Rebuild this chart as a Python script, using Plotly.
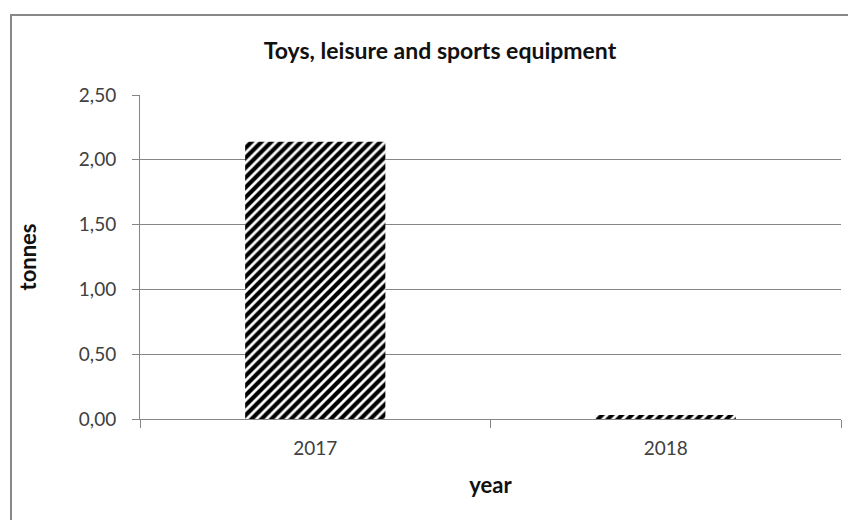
import plotly.graph_objects as go

years = ["2017", "2018"]
tonnes = [2.14, 0.03]
y_ticks = [0, 0.5, 1.0, 1.5, 2.0, 2.5]
y_tick_labels = ["0,00", "0,50", "1,00", "1,50", "2,00", "2,50"]

FONT = "Lato, Calibri, Carlito, sans-serif"
GRID = "#868686"
OFF = 8  # page body margin offset

fig = go.Figure()
fig.add_trace(go.Bar(
    x=years, y=tonnes,
    marker=dict(
        color="black",
        line=dict(width=0),
        pattern=dict(shape="/", fgcolor="black", bgcolor="white", fgopacity=1,
                     size=7, solidity=0.6, fillmode="replace"),
    ),
    hoverinfo="skip",
))

W, H = 856 - OFF, 520 - OFF
fig.update_layout(
    width=W, height=H,
    paper_bgcolor="white", plot_bgcolor="white",
    margin=dict(l=140 - OFF, r=15, t=95 - OFF, b=101, autoexpand=False),
    bargap=0.6,
    showlegend=False,
    font=dict(family=FONT, size=18, color="#404040"),
    title=dict(
        text="<b>Toys, leisure and sports equipment</b>",
        font=dict(family=FONT, size=23, color="#111111"),
        x=(440 - OFF) / W, xanchor="center", xref="container",
        y=1 - (51 - OFF) / H, yanchor="middle", yref="container",
    ),
    xaxis=dict(
        type="category",
        tickson="boundaries",
        ticks="outside", ticklen=8, tickcolor=GRID, tickwidth=1,
        showline=True, linecolor=GRID, linewidth=1,
        showgrid=False,
        ticklabelstandoff=12,
        tickfont=dict(family=FONT, size=19, color="#404040"),
        title=dict(text="<b>year</b>", font=dict(family=FONT, size=22, color="#111111"), standoff=19),
        automargin=False,
    ),
    yaxis=dict(
        range=[0, 2.5],
        tickvals=y_ticks, ticktext=y_tick_labels,
        ticks="outside", ticklen=7, tickcolor=GRID, tickwidth=1,
        showline=True, linecolor=GRID, linewidth=1,
        showgrid=True, gridcolor=GRID, gridwidth=1,
        zeroline=False,
        ticklabelstandoff=12,
        tickfont=dict(family=FONT, size=19, color="#404040"),
        title=dict(text="<b>tonnes</b>", font=dict(family=FONT, size=22, color="#111111"), standoff=36),
        automargin=False,
    ),
    shapes=[dict(
        type="rect", xref="paper", yref="paper",
        x0=(11 - 140) / 701, x1=1.2, y0=-0.6, y1=(419 - 15) / 324,
        line=dict(color="#888888", width=2), fillcolor="rgba(0,0,0,0)", layer="below",
    )],
)

fig.write_html("out.html")
